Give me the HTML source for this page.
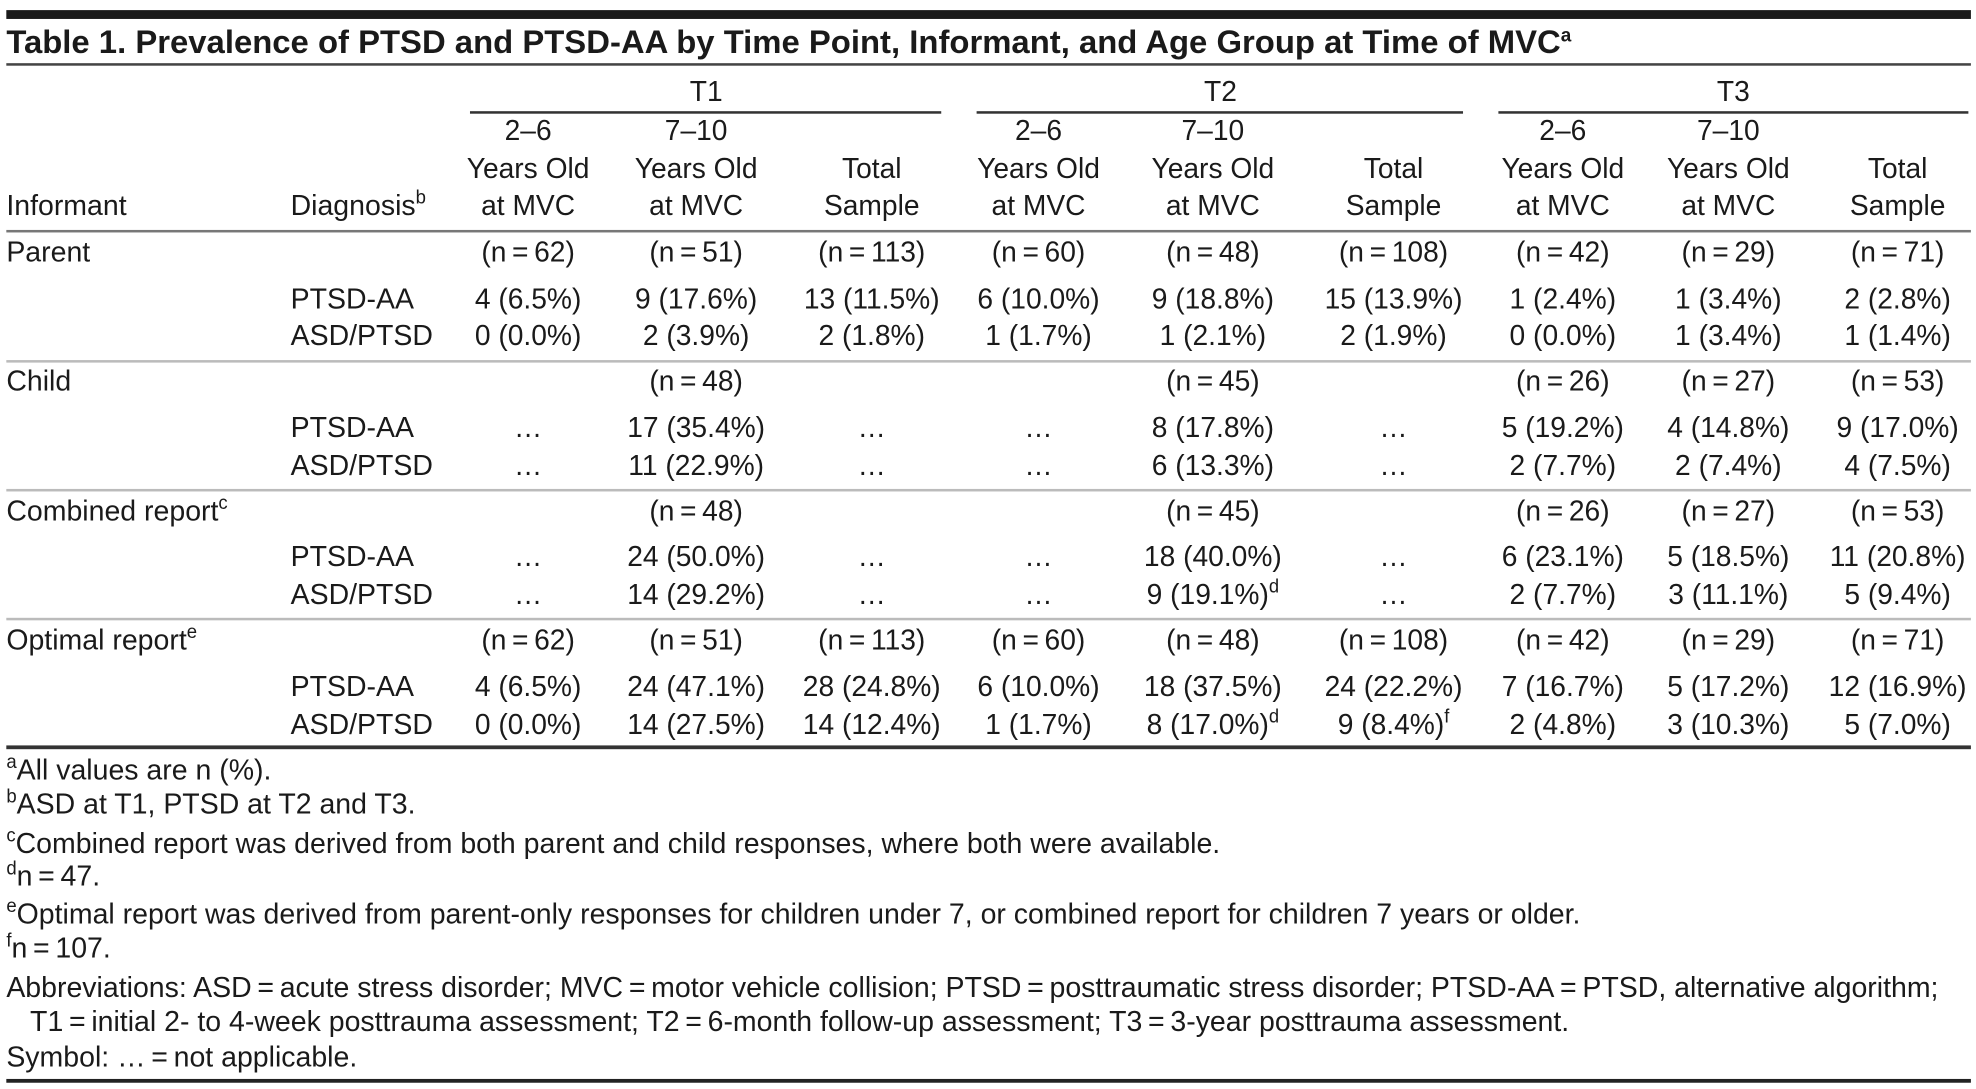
<!DOCTYPE html>
<html><head><meta charset="utf-8"><style>
html,body{margin:0;padding:0;background:#fff;}
body{width:1976px;height:1089px;overflow:hidden;position:relative;}
#wrap{position:absolute;left:0;top:0;width:1564px;height:862px;transform:scale(1.2634);transform-origin:0 0;font-family:"Liberation Sans",sans-serif;color:#1a1a1a;}
.t{position:absolute;white-space:nowrap;font-size:23px;line-height:26px;height:26px;}
.c{transform:translateX(-50%) scaleX(0.97);}
.l{transform:scaleX(0.98);transform-origin:0 50%;}
.rule{position:absolute;}
sup{font-size:15px;vertical-align:9px;line-height:0;}
</style></head><body>
<div id="wrap"></div>
<script>
const colX=[418,551,690,822,960,1103,1237,1368,1502];
const groups=["T1","T2","T3"];
const rowLabels=["Parent","","","Child","","","Combined report<sup>c</sup>","","","Optimal report<sup>e</sup>","",""];
const rowDiag=["","PTSD-AA","ASD/PTSD","","PTSD-AA","ASD/PTSD","","PTSD-AA","ASD/PTSD","","PTSD-AA","ASD/PTSD"];
const rowY=[199,236,265,301,338,368,404,440,470,506,543,573];
const cells=[
["(n\u2009=\u200962)","(n\u2009=\u200951)","(n\u2009=\u2009113)","(n\u2009=\u200960)","(n\u2009=\u200948)","(n\u2009=\u2009108)","(n\u2009=\u200942)","(n\u2009=\u200929)","(n\u2009=\u200971)"],
["4 (6.5%)","9 (17.6%)","13 (11.5%)","6 (10.0%)","9 (18.8%)","15 (13.9%)","1 (2.4%)","1 (3.4%)","2 (2.8%)"],
["0 (0.0%)","2 (3.9%)","2 (1.8%)","1 (1.7%)","1 (2.1%)","2 (1.9%)","0 (0.0%)","1 (3.4%)","1 (1.4%)"],
["","(n\u2009=\u200948)","","","(n\u2009=\u200945)","","(n\u2009=\u200926)","(n\u2009=\u200927)","(n\u2009=\u200953)"],
["\u2026","17 (35.4%)","\u2026","\u2026","8 (17.8%)","\u2026","5 (19.2%)","4 (14.8%)","9 (17.0%)"],
["\u2026","11 (22.9%)","\u2026","\u2026","6 (13.3%)","\u2026","2 (7.7%)","2 (7.4%)","4 (7.5%)"],
["","(n\u2009=\u200948)","","","(n\u2009=\u200945)","","(n\u2009=\u200926)","(n\u2009=\u200927)","(n\u2009=\u200953)"],
["\u2026","24 (50.0%)","\u2026","\u2026","18 (40.0%)","\u2026","6 (23.1%)","5 (18.5%)","11 (20.8%)"],
["\u2026","14 (29.2%)","\u2026","\u2026","9 (19.1%)<sup>d</sup>","\u2026","2 (7.7%)","3 (11.1%)","5 (9.4%)"],
["(n\u2009=\u200962)","(n\u2009=\u200951)","(n\u2009=\u2009113)","(n\u2009=\u200960)","(n\u2009=\u200948)","(n\u2009=\u2009108)","(n\u2009=\u200942)","(n\u2009=\u200929)","(n\u2009=\u200971)"],
["4 (6.5%)","24 (47.1%)","28 (24.8%)","6 (10.0%)","18 (37.5%)","24 (22.2%)","7 (16.7%)","5 (17.2%)","12 (16.9%)"],
["0 (0.0%)","14 (27.5%)","14 (12.4%)","1 (1.7%)","8 (17.0%)<sup>d</sup>","9 (8.4%)<sup>f</sup>","2 (4.8%)","3 (10.3%)","5 (7.0%)"]];
const notes=["<sup>a</sup>All values are n (%).","<sup>b</sup>ASD at T1, PTSD at T2 and T3.","<sup>c</sup>Combined report was derived from both parent and child responses, where both were available.","<sup>d</sup>n\u2009=\u200947.","<sup>e</sup>Optimal report was derived from parent-only responses for children under 7, or combined report for children 7 years or older.","<sup>f</sup>n\u2009=\u2009107.","Abbreviations: ASD\u2009=\u2009acute stress disorder; MVC\u2009=\u2009motor vehicle collision; PTSD\u2009=\u2009posttraumatic stress disorder; PTSD-AA\u2009=\u2009PTSD, alternative algorithm;","\u00a0\u00a0\u00a0T1\u2009=\u2009initial 2- to 4-week posttrauma assessment; T2\u2009=\u20096-month follow-up assessment; T3\u2009=\u20093-year posttrauma assessment.","Symbol: \u2026\u2009=\u2009not applicable."];
const noteY=[609,636,667,693,723,750,781,808,836];
const W=document.getElementById('wrap');
function txt(html,x,y,center,extra){const el=document.createElement('div');el.className='t '+(center?'c':'l');el.style.left=x+'px';el.style.top=(y-13)+'px';el.innerHTML=html;if(extra)el.style.cssText+=extra;W.appendChild(el);return el;}
function rule(x1,x2,y,h,col){const el=document.createElement('div');el.className='rule';el.style.left=x1+'px';el.style.width=(x2-x1)+'px';el.style.top=y+'px';el.style.height=h+'px';el.style.background=col;W.appendChild(el);return el;}
let e;
e=rule(5,1560,8,7,'#1a1a1a');


e=txt('Table 1. Prevalence of PTSD and PTSD-AA by Time Point, Informant, and Age Group at Time of MVC<sup>a</sup>',5,33,false,'font-weight:bold;font-size:26px;transform:scaleX(1.0);');


e=rule(5,1560,50,2,'#444');


const gx=[[372,745],[773,1158],[1186,1558]];
groups.forEach((g,i)=>{
 e=txt(g,(gx[i][0]+gx[i][1])/2,72,true);
 
 
 e=rule(gx[i][0],gx[i][1],88,2,'#333');
 
 
 const b=i*3;
 e=txt('2–6',colX[b],103,true);
 
 
 e=txt('Years Old',colX[b],133,true);
 
 
 e=txt('at MVC',colX[b],162,true);
 
 
 e=txt('7–10',colX[b+1],103,true);
 
 
 e=txt('Years Old',colX[b+1],133,true);
 
 
 e=txt('at MVC',colX[b+1],162,true);
 
 
 e=txt('Total',colX[b+2],133,true);
 
 
 e=txt('Sample',colX[b+2],162,true);
 
 
});
e=txt('Informant',5,162,false);


e=txt('Diagnosis<sup>b</sup>',230,162,false);


e=rule(5,1560,182,2,'#777');


rowY.forEach((y,r)=>{
 if(rowLabels[r]){e=txt(rowLabels[r],5,y,false);
 
 }
 if(rowDiag[r]){e=txt(rowDiag[r],230,y,false);
 
 }
 cells[r].forEach((v,c)=>{if(!v)return;
  e=txt(v,colX[c],y,true);
  
  });
});
[285,387,489].forEach(y=>{e=rule(5,1560,y,2,'#bbb');
 
 });
e=rule(5,1560,590,3,'#333');


notes.forEach((n,i)=>{e=txt(n,5,noteY[i],false);
 
 });
e=rule(5,1560,854,3,'#222');


</script>
</body></html>
